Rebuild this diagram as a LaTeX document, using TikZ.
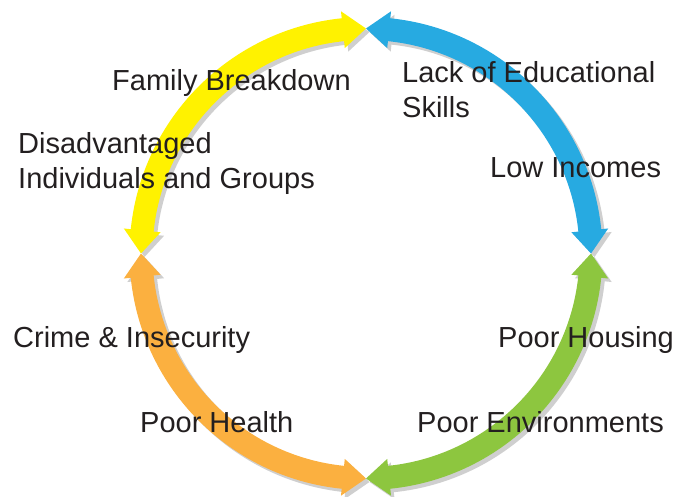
\documentclass[tikz,border=0pt]{standalone}
\usepackage{fontspec}
\setmainfont{Liberation Sans}
\definecolor{cyY}{HTML}{FFF200}
\definecolor{cyB}{HTML}{27AAE1}
\definecolor{cyG}{HTML}{8DC63F}
\definecolor{cyO}{HTML}{FBB040}
\definecolor{cyS}{HTML}{CFCFCF}
\definecolor{txt}{HTML}{231F20}
\newcommand\cycarrow[3]{%
  \fill[#3] (#1:225pt) -- ({#1+5.9}:243.5pt) -- ({#1+5.9}:236.5pt)
    arc[start angle={#1+5.9}, end angle={#2-5.9}, radius=236.5pt]
    -- ({#2-5.9}:243.5pt) -- (#2:225pt) -- ({#2-5.9}:206.5pt) -- ({#2-5.9}:213.5pt)
    arc[start angle={#2-5.9}, end angle={#1+5.9}, radius=213.5pt]
    -- ({#1+5.9}:206.5pt) -- cycle;}
\begin{document}
\begin{tikzpicture}[x=1pt,y=1pt,
  lbl/.style={anchor=base west, inner sep=0pt, text=txt,
    font=\fontsize{29}{35}\selectfont, align=left}]
\useasboundingbox (0,0) rectangle (676,496);
\begin{scope}[shift={(369.5,239)}]
  \cycarrow{90}{180}{cyS}
  \cycarrow{180}{270}{cyS}
  \cycarrow{270}{360}{cyS}
  \cycarrow{0}{90}{cyS}
\end{scope}
\begin{scope}[shift={(366,242.5)}]
  \cycarrow{90}{180}{cyY}
  \cycarrow{180}{270}{cyO}
  \cycarrow{270}{360}{cyG}
  \cycarrow{0}{90}{cyB}
\end{scope}
\node[lbl] (fam) at (112,405) {Family Breakdown};
\node[lbl] (lack) at (402,378) {Lack of Educational\\Skills};
\node[lbl] (dis) at (18,308) {Disadvantaged\\Individuals and Groups};
\node[lbl] (low) at (490,319) {Low Incomes};
\node[lbl] (crime) at (13,149) {Crime \& Insecurity};
\node[lbl] (hous) at (498,149) {Poor Housing};
\node[lbl] (health) at (140,64) {Poor Health};
\node[lbl] (env) at (417,64) {Poor Environments};
\end{tikzpicture}
\end{document}
